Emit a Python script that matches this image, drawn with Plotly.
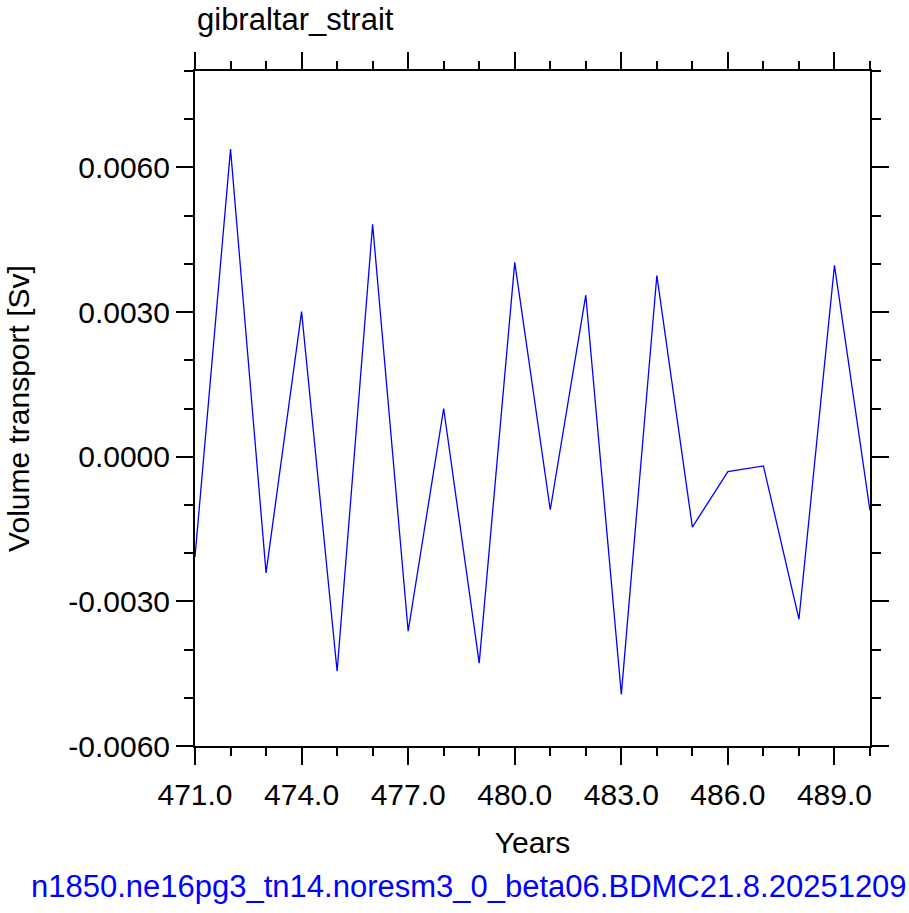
import plotly.graph_objects as go

years = list(range(471, 491))
transport = [-0.00208, 0.00638, -0.00241, 0.00301, -0.00445, 0.00482, -0.00362, 0.00100,
             -0.00428, 0.00403, -0.00110, 0.00335, -0.00493, 0.00376, -0.00146, -0.00031,
             -0.00019, -0.00337, 0.00397, -0.00112]
ytickvals = [-0.006, -0.003, 0.0, 0.003, 0.006]
yticktext = ["-0.0060", "-0.0030", "0.0000", "0.0030", "0.0060"]
xtickvals = [471, 474, 477, 480, 483, 486, 489]
xticktext = ["471.0", "474.0", "477.0", "480.0", "483.0", "486.0", "489.0"]

FONT = "Liberation Sans, Arial, Helvetica, sans-serif"
XR = [471, 490]
YR = [-0.006, 0.008]

fig = go.Figure()
fig.add_trace(go.Scatter(x=years, y=transport, mode="lines",
                         line=dict(color="#0000ff", width=1.3), showlegend=False,
                         xaxis="x", yaxis="y"))
# invisible trace to activate mirrored frame axes
fig.add_trace(go.Scatter(x=[XR[0]], y=[0], mode="markers", marker=dict(opacity=0),
                         showlegend=False, hoverinfo="skip", xaxis="x2", yaxis="y2"))

common = dict(showgrid=False, zeroline=False, showline=True, linecolor="black",
              linewidth=2, ticks="outside", tickwidth=2, tickcolor="black", ticklen=17,
              tickfont=dict(family=FONT, size=30, color="black"))

xminor = dict(ticks="outside", ticklen=8, tickwidth=2, tickcolor="black", dtick=1, tick0=471)
yminor = dict(ticks="outside", ticklen=9, tickwidth=2, tickcolor="black", dtick=0.001, tick0=0)

fig.update_layout(
    width=909, height=913,
    margin=dict(l=195, r=39, t=71, b=167),
    plot_bgcolor="white", paper_bgcolor="white",
    xaxis=dict(range=XR, tickmode="array", tickvals=xtickvals, ticktext=xticktext,
               minor=xminor, ticklabelstandoff=4,
               title=dict(text="Years", font=dict(family=FONT, size=30, color="black"), standoff=22),
               **common),
    yaxis=dict(range=YR, tickmode="array", tickvals=ytickvals, ticktext=yticktext,
               minor=yminor,
               title=dict(text="Volume transport [Sv]", font=dict(family=FONT, size=30, color="black"), standoff=30),
               **common),
    xaxis2=dict(range=XR, overlaying="x", side="top", tickmode="array", tickvals=xtickvals,
                showticklabels=False, minor=xminor, **common),
    yaxis2=dict(range=YR, overlaying="y", side="right", tickmode="array", tickvals=ytickvals,
                showticklabels=False, minor=yminor, **common),
)

pw = 909 - 195 - 39
ph = 913 - 71 - 167
fig.add_annotation(text="gibraltar_strait", x=0, y=1, xref="paper", yref="paper",
                   xanchor="left", yanchor="bottom", yshift=32, showarrow=False,
                   font=dict(family=FONT, size=31, color="black"))
fig.add_annotation(text="n1850.ne16pg3_tn14.noresm3_0_beta06.BDMC21.8.20251209",
                   x=(469 - 195) / pw, y=(913 - 167 - 886) / ph,
                   xref="paper", yref="paper", xanchor="center", yanchor="middle",
                   showarrow=False, font=dict(family=FONT, size=31, color="#0000ff"))

fig.write_html("out.html")
